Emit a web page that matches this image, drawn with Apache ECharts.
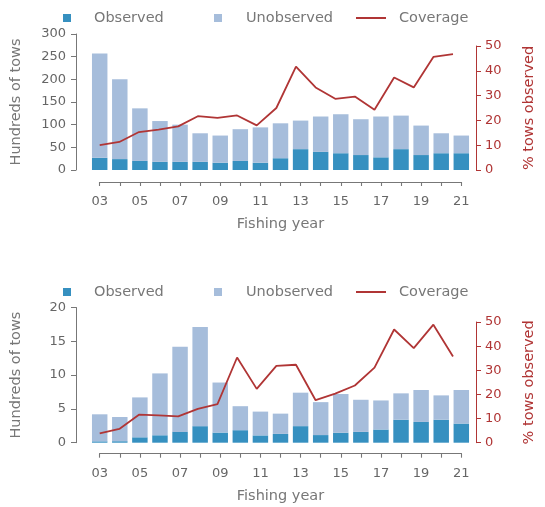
<!DOCTYPE html>
<html>
<head>
<meta charset="utf-8">
<script src="https://cdn.jsdelivr.net/npm/echarts@6/dist/echarts.min.js"></script>
<style>html,body{margin:0;padding:0;background:#fff}#c{width:545px;height:507px}</style>
</head>
<body>
<div id="c"></div>
<script>
const years = ['03','04','05','06','07','08','09','10','11','12','13','14','15','16','17','18','19','20','21'];
const topTotal = [257,200,136,108,100,81,76,90,94,103,109,118,123,112,118,120,98,81,76];
const topObserved = [27,24,20,18,18,18,16,20,16,26,46,40,37,33,28,46,33,37,37];
const topCoverage = [10,11.3,15.3,16.3,17.6,21.7,21,22,18,25,41.7,33.3,28.7,29.6,24.3,37.3,33.3,45.6,46.7];
const botTotal = [4.2,3.8,6.7,10.25,14.2,17.1,8.9,5.4,4.6,4.3,7.4,6.0,7.2,6.35,6.25,7.3,7.8,7.0,7.8];
const botObserved = [0.2,0.22,0.8,1.1,1.6,2.45,1.5,1.85,1.08,1.3,2.45,1.13,1.47,1.6,1.95,3.4,3.07,3.4,2.83];
const botCoverage = [3.9,5.7,11.6,11.3,10.9,14,16,35.3,22.3,31.8,32.3,17.6,20.3,23.7,31.1,46.9,39.2,48.9,35.7];
const topTicks = {min:0, max:300, interval:50};
const botTicks = {min:0, max:20, interval:5};
const covTicks = {min:0, max:50, interval:10};

const FONT = 'DejaVu Sans';
const GRAY = '#777';
const LBL = '#666';
const DARK = '#3690c0';
const LIGHT = '#a6bddb';
const RED = '#b03535';

const topUnobs = topTotal.map((t,i)=>+(t-topObserved[i]).toFixed(3));
const botUnobs = botTotal.map((t,i)=>+(t-botObserved[i]).toFixed(3));

const XL = 99.7, XW = 361.6;
function grid(top,h){return {left:XL,width:XW,top:top,height:h,containLabel:false};}

function hiddenX(g){
  return {gridIndex:g,type:'category',data:years,boundaryGap:false,
    axisLine:{show:false},axisTick:{show:false},axisLabel:{show:false},splitLine:{show:false}};
}
function visX(g,off){
  return {gridIndex:g,type:'category',data:years,boundaryGap:false,position:'bottom',offset:off,
    axisLine:{show:true,onZero:false,lineStyle:{color:GRAY,width:1.1}},
    axisTick:{show:true,length:4,interval:0,lineStyle:{color:GRAY,width:1.1}},
    axisLabel:{interval:1,color:LBL,fontSize:13,fontFamily:FONT,margin:13},
    splitLine:{show:false},
    name:'Fishing year',nameLocation:'middle',nameGap:35,
    nameTextStyle:{color:GRAY,fontSize:14.5,fontFamily:FONT}};
}
// standalone year axis used for the spine and tick marks under each panel
function spineAxis(top,h){
  return {type:'category',data:years,boundaryGap:false,orient:'horizontal',position:'bottom',
    left:XL,width:XW,top:top,height:h,
    axisLine:{show:true,lineStyle:{color:GRAY,width:1.1}},
    axisTick:{show:true,length:4,interval:0,inside:false,lineStyle:{color:GRAY,width:1.1}},
    axisLabel:{show:false},splitLine:{show:false},splitArea:{show:false},axisPointer:{show:false}};
}
function leftY(g,t){
  return {gridIndex:g,type:'value',min:t.min,max:t.max,interval:t.interval,position:'left',offset:23.7,
    splitLine:{show:false},
    axisLine:{show:true,onZero:false,lineStyle:{color:GRAY,width:1}},
    axisTick:{show:true,length:5,lineStyle:{color:GRAY}},
    axisLabel:{color:LBL,fontSize:13,fontFamily:FONT,margin:10},
    name:'Hundreds of tows',nameLocation:'middle',nameGap:52,
    nameTextStyle:{color:GRAY,fontSize:14.5,fontFamily:FONT}};
}
function rightY(g,t){
  return {gridIndex:g,type:'value',min:t.min,max:t.max,interval:t.interval,position:'right',offset:23,
    splitLine:{show:false},
    axisLine:{show:true,onZero:false,lineStyle:{color:RED,width:1}},
    axisTick:{show:true,length:5,lineStyle:{color:RED}},
    axisLabel:{color:RED,fontSize:13,fontFamily:FONT,margin:9},
    name:'% tows observed',nameLocation:'middle',nameGap:46,nameRotate:90,
    nameTextStyle:{color:RED,fontSize:14.5,fontFamily:FONT}};
}

function legend(name,left,top,w,h,pad,icon){
  return {data:[{name:name,icon:icon}],left:left,top:top,itemWidth:w,itemHeight:h,padding:0,selectedMode:false,
    textStyle:{color:GRAY,fontSize:14.5,fontFamily:FONT,lineHeight:16,padding:[0,0,0,pad]}};
}

function bars(xi,yi,obs,unobs,stack){
  return [
    {name:'Observed',type:'bar',xAxisIndex:xi,yAxisIndex:yi,stack:stack,data:obs,barCategoryGap:'23%',clip:false,
      itemStyle:{color:DARK},emphasis:{disabled:true}},
    {name:'Unobserved',type:'bar',xAxisIndex:xi,yAxisIndex:yi,stack:stack,data:unobs,barCategoryGap:'23%',clip:false,
      itemStyle:{color:LIGHT},emphasis:{disabled:true}}
  ];
}
function line(xi,yi,d){
  return {name:'Coverage',type:'line',xAxisIndex:xi,yAxisIndex:yi,data:d,symbol:'none',z:5,clip:false,
    lineStyle:{color:RED,width:1.8},itemStyle:{color:RED},emphasis:{disabled:true}};
}

const option = {
  animation:false,
  grid:[ grid(34,136), grid(46,124), grid(307.5,135.2), grid(322,120.7) ],
  xAxis:[visX(0,12),hiddenX(1),visX(2,11),hiddenX(3)],
  yAxis:[leftY(0,topTicks),rightY(1,covTicks),leftY(2,botTicks),rightY(3,covTicks)],
  singleAxis:[spineAxis(170,12), spineAxis(442.7,11)],
  legend:[
    legend('Observed',63,10,8,8,18,'rect'),
    legend('Unobserved',214,10,8,8,19,'rect'),
    legend('Coverage',356,10,30,2,8,'rect'),
    legend('Observed',63,284,8,8,18,'rect'),
    legend('Unobserved',214,284,8,8,19,'rect'),
    legend('Coverage',356,284,30,2,8,'rect')
  ],
  series:[
    ...bars(0,0,topObserved,topUnobs,'top'),
    line(1,1,topCoverage),
    ...bars(2,2,botObserved,botUnobs,'bot'),
    line(3,3,botCoverage)
  ]
};
const chart = echarts.init(document.getElementById('c'),null,{renderer:'canvas'});
chart.setOption(option);
</script>
</body>
</html>
